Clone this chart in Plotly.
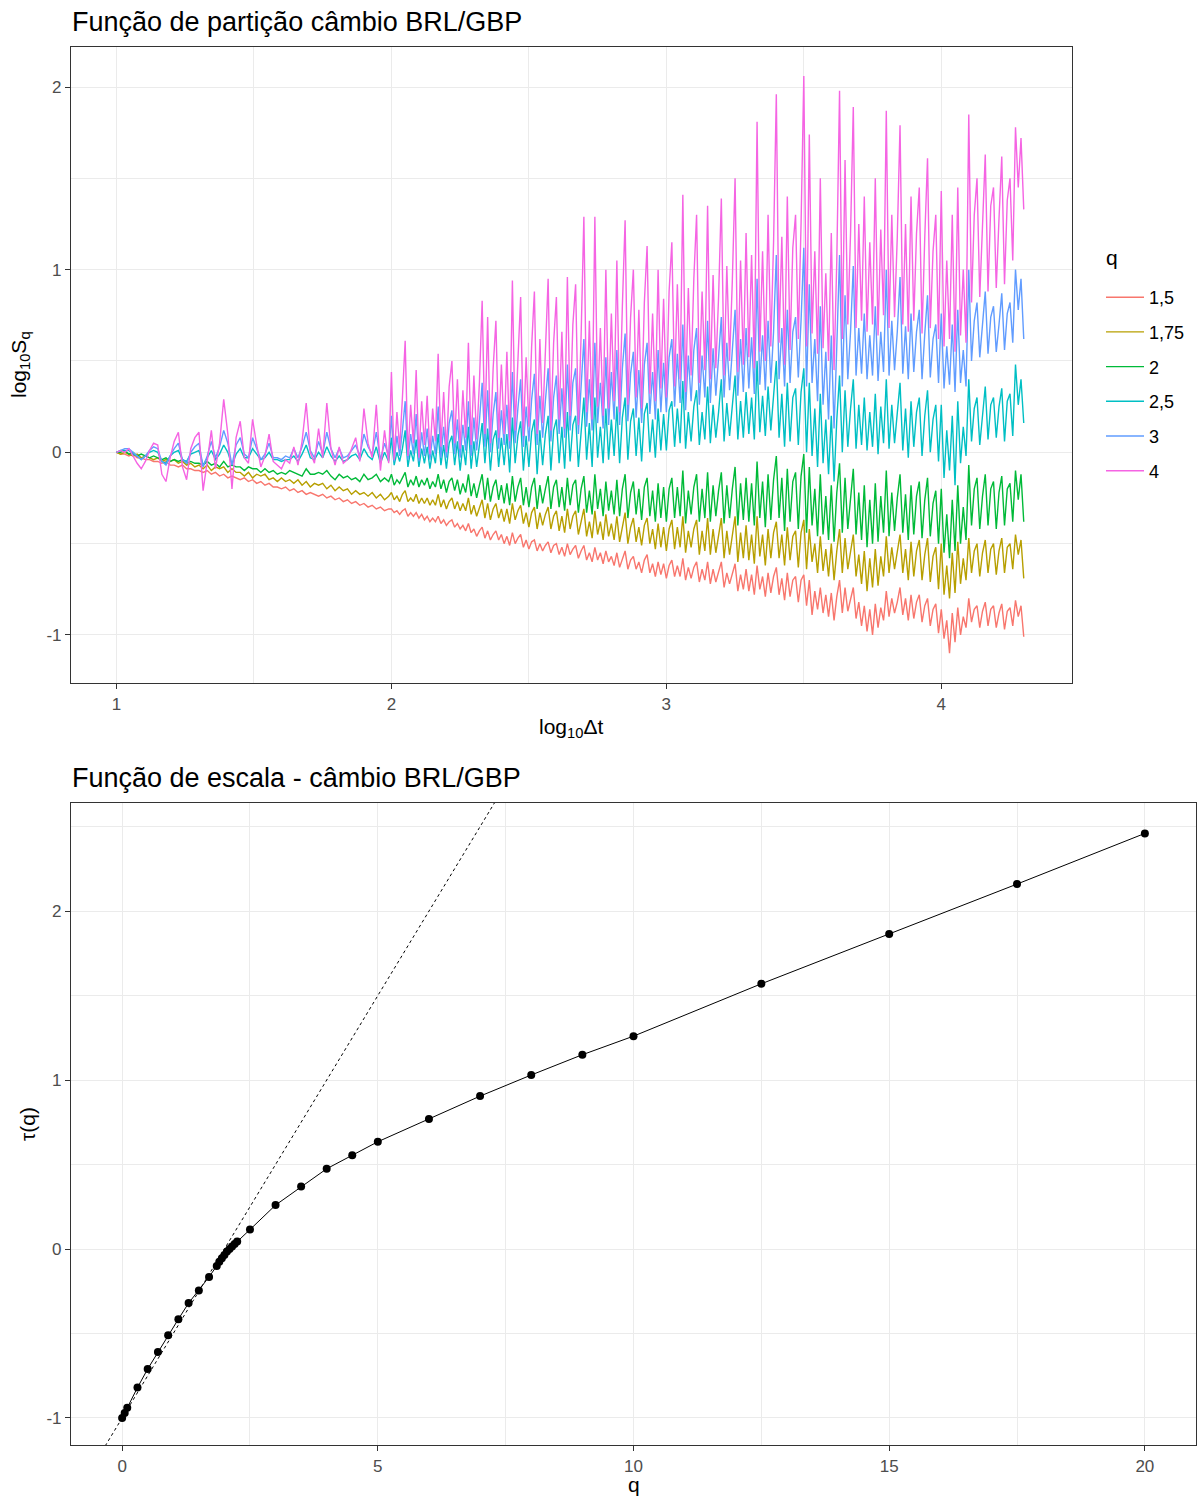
import numpy as np
import plotly.graph_objects as go

# ---------------------------------------------------------------
# Partition function log10 S_q versus log10 Δt (BRL/GBP exchange)
# grid: 1.00-1.99 every 0.015, then 2.00-4.30 every 0.01
# ---------------------------------------------------------------
log_dt = np.round(np.concatenate([np.linspace(1.0, 1.99, 67),
                                  np.linspace(2.0, 4.3, 231)]), 3)

s_q150 = [
    # 1.000 - 1.990
    0.00, -0.01, -0.01, -0.02, -0.01, -0.03, -0.03, -0.04, -0.04, -0.05,
    -0.05, -0.06, -0.05, -0.07, -0.07, -0.08, -0.07, -0.09, -0.09, -0.10,
    -0.10, -0.11, -0.10, -0.12, -0.11, -0.13, -0.12, -0.14, -0.13, -0.14,
    -0.15, -0.14, -0.16, -0.15, -0.17, -0.16, -0.18, -0.17, -0.19, -0.19,
    -0.20, -0.19, -0.21, -0.20, -0.22, -0.21, -0.23, -0.22, -0.23, -0.24,
    -0.23, -0.25, -0.24, -0.26, -0.25, -0.27, -0.26, -0.28, -0.27, -0.29,
    -0.28, -0.30, -0.29, -0.31, -0.30, -0.32, -0.31,
    # 2.00 - 4.30
    -0.31, -0.33, -0.32, -0.34, -0.32, -0.31, -0.35, -0.33, -0.35, -0.33,
    -0.36, -0.34, -0.37, -0.35, -0.38, -0.36, -0.38, -0.35, -0.39, -0.37,
    -0.40, -0.38, -0.37, -0.41, -0.39, -0.42, -0.40, -0.43, -0.39, -0.44,
    -0.42, -0.46, -0.43, -0.41, -0.47, -0.43, -0.48, -0.45, -0.43, -0.48,
    -0.45, -0.50, -0.46, -0.51, -0.44, -0.50, -0.47, -0.45, -0.52, -0.48,
    -0.53, -0.49, -0.48, -0.54, -0.50, -0.54, -0.51, -0.49, -0.55, -0.51,
    -0.50, -0.56, -0.52, -0.57, -0.50, -0.56, -0.53, -0.51, -0.58, -0.54,
    -0.51, -0.59, -0.55, -0.60, -0.52, -0.59, -0.55, -0.61, -0.54, -0.60,
    -0.57, -0.62, -0.55, -0.63, -0.58, -0.54, -0.64, -0.59, -0.57, -0.64,
    -0.60, -0.66, -0.59, -0.56, -0.66, -0.61, -0.68, -0.60, -0.67, -0.61,
    -0.69, -0.62, -0.59, -0.68, -0.62, -0.68, -0.58, -0.70, -0.63, -0.69,
    -0.63, -0.60, -0.71, -0.64, -0.70, -0.60, -0.72, -0.64, -0.71, -0.65,
    -0.60, -0.74, -0.66, -0.72, -0.67, -0.61, -0.76, -0.67, -0.75, -0.64,
    -0.76, -0.67, -0.78, -0.62, -0.75, -0.68, -0.79, -0.66, -0.77, -0.68,
    -0.63, -0.78, -0.69, -0.81, -0.66, -0.79, -0.70, -0.68, -0.82, -0.70,
    -0.67, -0.84, -0.70, -0.89, -0.76, -0.86, -0.74, -0.88, -0.78, -0.90,
    -0.77, -0.92, -0.79, -0.70, -0.88, -0.74, -0.87, -0.80, -0.74, -0.91,
    -0.82, -0.95, -0.84, -0.98, -0.86, -1.00, -0.83, -0.96, -0.85, -0.92,
    -0.76, -0.90, -0.80, -0.88, -0.82, -0.74, -0.89, -0.80, -0.92, -0.78,
    -0.91, -0.82, -0.78, -0.93, -0.84, -0.80, -0.95, -0.86, -0.83, -0.99,
    -0.86, -1.02, -0.92, -1.10, -0.88, -1.04, -0.85, -1.00, -0.90, -0.96,
    -0.80, -0.93, -0.86, -0.84, -0.96, -0.87, -0.82, -0.95, -0.86, -0.84,
    -0.96, -0.88, -0.83, -0.97, -0.87, -0.85, -0.95, -0.81, -0.90, -0.84,
    -1.01,
]

s_q175 = [
    0.00, -0.01, 0.00, -0.01, -0.02, -0.01, -0.03, -0.02, -0.03, -0.04,
    -0.03, -0.05, -0.04, -0.05, -0.04, -0.06, -0.05, -0.07, -0.06, -0.08,
    -0.07, -0.09, -0.07, -0.10, -0.08, -0.09, -0.08, -0.11, -0.09, -0.11,
    -0.11, -0.13, -0.11, -0.14, -0.12, -0.13, -0.12, -0.15, -0.14, -0.16,
    -0.14, -0.16, -0.15, -0.17, -0.15, -0.18, -0.16, -0.19, -0.17, -0.18,
    -0.17, -0.20, -0.18, -0.21, -0.19, -0.21, -0.20, -0.23, -0.21, -0.23,
    -0.22, -0.24, -0.22, -0.25, -0.23, -0.26, -0.24,
    -0.22, -0.26, -0.24, -0.27, -0.23, -0.21, -0.27, -0.25, -0.27, -0.23,
    -0.28, -0.25, -0.28, -0.25, -0.29, -0.26, -0.29, -0.23, -0.30, -0.26,
    -0.31, -0.27, -0.25, -0.31, -0.27, -0.32, -0.28, -0.32, -0.25, -0.34,
    -0.29, -0.35, -0.30, -0.26, -0.36, -0.28, -0.37, -0.31, -0.28, -0.36,
    -0.31, -0.38, -0.31, -0.39, -0.28, -0.37, -0.32, -0.29, -0.39, -0.33,
    -0.41, -0.33, -0.30, -0.42, -0.33, -0.40, -0.34, -0.30, -0.42, -0.35,
    -0.32, -0.43, -0.35, -0.44, -0.31, -0.42, -0.35, -0.32, -0.45, -0.37,
    -0.31, -0.46, -0.38, -0.47, -0.32, -0.45, -0.38, -0.48, -0.34, -0.46,
    -0.39, -0.48, -0.35, -0.49, -0.40, -0.33, -0.50, -0.41, -0.36, -0.49,
    -0.41, -0.51, -0.40, -0.36, -0.50, -0.42, -0.53, -0.39, -0.52, -0.41,
    -0.54, -0.42, -0.37, -0.53, -0.41, -0.52, -0.35, -0.55, -0.43, -0.52,
    -0.42, -0.37, -0.56, -0.43, -0.54, -0.36, -0.56, -0.42, -0.55, -0.44,
    -0.36, -0.58, -0.43, -0.56, -0.45, -0.35, -0.60, -0.44, -0.58, -0.40,
    -0.59, -0.45, -0.61, -0.35, -0.57, -0.45, -0.62, -0.42, -0.58, -0.44,
    -0.38, -0.58, -0.45, -0.62, -0.41, -0.59, -0.46, -0.43, -0.63, -0.44,
    -0.37, -0.64, -0.42, -0.60, -0.50, -0.66, -0.46, -0.65, -0.53, -0.68,
    -0.50, -0.70, -0.54, -0.42, -0.66, -0.47, -0.64, -0.55, -0.45, -0.68,
    -0.56, -0.72, -0.54, -0.76, -0.58, -0.74, -0.53, -0.73, -0.57, -0.68,
    -0.46, -0.66, -0.52, -0.64, -0.55, -0.45, -0.66, -0.53, -0.70, -0.49,
    -0.68, -0.54, -0.48, -0.70, -0.56, -0.47, -0.71, -0.57, -0.52, -0.75,
    -0.50, -0.78, -0.62, -0.80, -0.55, -0.77, -0.49, -0.72, -0.58, -0.70,
    -0.47, -0.66, -0.54, -0.50, -0.68, -0.55, -0.48, -0.66, -0.53, -0.50,
    -0.67, -0.54, -0.47, -0.66, -0.52, -0.50, -0.64, -0.45, -0.56, -0.48,
    -0.69,
]

s_q200 = [
    0.00, 0.00, 0.01, -0.01, 0.00, -0.02, -0.01, -0.02, -0.03, -0.02,
    -0.03, -0.04, -0.03, -0.05, -0.04, -0.05, -0.04, -0.06, -0.05, -0.06,
    -0.06, -0.07, -0.05, -0.07, -0.06, -0.08, -0.05, -0.08, -0.07, -0.08,
    -0.08, -0.10, -0.08, -0.09, -0.09, -0.11, -0.09, -0.11, -0.10, -0.12,
    -0.11, -0.12, -0.10, -0.11, -0.12, -0.13, -0.09, -0.12, -0.12, -0.11,
    -0.12, -0.10, -0.13, -0.15, -0.12, -0.14, -0.13, -0.15, -0.14, -0.16,
    -0.12, -0.15, -0.14, -0.12, -0.16, -0.14, -0.16,
    -0.12, -0.18, -0.15, -0.17, -0.14, -0.11, -0.19, -0.15, -0.18, -0.13,
    -0.19, -0.15, -0.18, -0.14, -0.20, -0.16, -0.19, -0.12, -0.20, -0.15,
    -0.22, -0.16, -0.14, -0.21, -0.15, -0.23, -0.17, -0.22, -0.12, -0.24,
    -0.17, -0.25, -0.18, -0.12, -0.26, -0.14, -0.27, -0.19, -0.15, -0.26,
    -0.18, -0.28, -0.17, -0.29, -0.13, -0.27, -0.19, -0.14, -0.29, -0.19,
    -0.30, -0.19, -0.14, -0.31, -0.18, -0.28, -0.20, -0.13, -0.31, -0.19,
    -0.15, -0.30, -0.19, -0.32, -0.14, -0.29, -0.18, -0.15, -0.33, -0.20,
    -0.13, -0.33, -0.21, -0.34, -0.12, -0.31, -0.20, -0.35, -0.16, -0.32,
    -0.21, -0.34, -0.15, -0.35, -0.20, -0.12, -0.36, -0.22, -0.16, -0.34,
    -0.20, -0.37, -0.19, -0.14, -0.35, -0.21, -0.38, -0.17, -0.36, -0.19,
    -0.38, -0.20, -0.14, -0.36, -0.19, -0.35, -0.10, -0.39, -0.21, -0.34,
    -0.19, -0.12, -0.38, -0.20, -0.36, -0.11, -0.38, -0.18, -0.35, -0.21,
    -0.11, -0.39, -0.18, -0.36, -0.20, -0.08, -0.40, -0.17, -0.37, -0.14,
    -0.38, -0.17, -0.40, -0.05, -0.36, -0.16, -0.41, -0.12, -0.37, -0.15,
    -0.02, -0.36, -0.14, -0.43, -0.09, -0.38, -0.16, -0.11, -0.42, -0.13,
    -0.01, -0.44, -0.08, -0.40, -0.20, -0.46, -0.12, -0.45, -0.24, -0.48,
    -0.18, -0.49, -0.22, -0.06, -0.44, -0.14, -0.42, -0.24, -0.09, -0.45,
    -0.22, -0.48, -0.18, -0.52, -0.26, -0.50, -0.17, -0.49, -0.24, -0.44,
    -0.10, -0.46, -0.22, -0.43, -0.25, -0.12, -0.44, -0.23, -0.48, -0.18,
    -0.45, -0.24, -0.16, -0.47, -0.26, -0.14, -0.46, -0.28, -0.21, -0.50,
    -0.20, -0.55, -0.34, -0.58, -0.26, -0.54, -0.18, -0.50, -0.30, -0.48,
    -0.07, -0.40, -0.20, -0.14, -0.42, -0.24, -0.12, -0.40, -0.20, -0.16,
    -0.42, -0.22, -0.13, -0.40, -0.20, -0.17, -0.38, -0.10, -0.26, -0.12,
    -0.38,
]

s_q250 = [
    0.00, 0.01, 0.01, 0.01, -0.01, -0.02, -0.04, -0.02, 0.00, 0.01,
    0.00, -0.05, -0.06, -0.02, 0.00, 0.01, -0.04, -0.05, -0.01, 0.00,
    0.01, -0.07, -0.03, 0.01, -0.04, -0.01, 0.04, 0.00, -0.07, -0.01,
    0.02, -0.03, -0.03, 0.02, -0.01, -0.04, -0.03, 0.00, -0.04, -0.04,
    -0.05, -0.04, -0.04, -0.02, -0.05, -0.01, 0.04, -0.03, -0.04, 0.00,
    -0.03, 0.03, -0.02, -0.05, -0.02, -0.05, -0.04, -0.02, -0.01, -0.04,
    0.02, -0.02, -0.04, 0.03, -0.06, 0.00, -0.05,
    0.08, -0.07, 0.00, -0.05, 0.02, 0.12, -0.08, 0.01, -0.05, 0.07,
    -0.08, 0.02, -0.06, 0.03, -0.09, 0.01, -0.06, 0.10, -0.07, 0.04,
    -0.09, 0.05, 0.09, -0.07, 0.06, -0.10, 0.04, -0.07, 0.14, -0.09,
    0.06, -0.08, 0.05, 0.16, -0.06, 0.13, -0.10, 0.07, 0.12, -0.08,
    0.08, -0.07, 0.10, -0.11, 0.19, -0.06, 0.09, 0.17, -0.10, 0.09,
    -0.08, 0.11, 0.18, -0.12, 0.12, -0.07, 0.10, 0.20, -0.10, 0.12,
    0.18, -0.06, 0.14, -0.09, 0.22, -0.05, 0.15, 0.20, -0.08, 0.13,
    0.30, -0.04, 0.16, -0.08, 0.30, -0.03, 0.14, -0.06, 0.24, -0.04,
    0.18, -0.02, 0.25, -0.06, 0.19, 0.30, -0.04, 0.17, 0.24, -0.02,
    0.19, -0.05, 0.21, 0.27, 0.00, 0.18, -0.03, 0.24, 0.01, 0.21,
    0.01, 0.23, 0.28, 0.03, 0.24, 0.05, 0.39, 0.02, 0.22, 0.06,
    0.25, 0.34, 0.04, 0.22, 0.07, 0.36, 0.05, 0.26, 0.08, 0.22,
    0.40, 0.06, 0.27, 0.09, 0.24, 0.42, 0.07, 0.28, 0.08, 0.33,
    0.10, 0.30, 0.07, 0.50, 0.11, 0.31, 0.09, 0.36, 0.12, 0.32,
    0.50, 0.08, 0.32, 0.03, 0.38, 0.06, 0.30, 0.35, 0.04, 0.33,
    0.46, 0.00, 0.38, -0.02, 0.24, -0.08, 0.32, -0.06, 0.18, -0.12,
    0.20, -0.16, 0.18, 0.42, 0.00, 0.34, 0.03, 0.24, 0.40, 0.02,
    0.26, 0.04, 0.30, 0.01, 0.22, 0.03, 0.32, -0.01, 0.25, 0.05,
    0.40, 0.02, 0.26, 0.05, 0.22, 0.38, 0.01, 0.24, -0.03, 0.28,
    0.03, 0.22, 0.30, -0.02, 0.20, 0.34, 0.00, 0.18, 0.26, -0.05,
    0.26, -0.14, 0.12, -0.10, 0.20, -0.18, 0.28, -0.06, 0.14, -0.02,
    0.40, 0.06, 0.24, 0.30, 0.04, 0.22, 0.36, 0.07, 0.26, 0.30,
    0.08, 0.25, 0.35, 0.06, 0.28, 0.32, 0.09, 0.48, 0.26, 0.40,
    0.16,
]

s_q300 = [
    0.00, 0.01, 0.02, 0.02, 0.00, -0.02, -0.04, -0.02, 0.01, 0.03,
    0.02, -0.05, -0.07, -0.02, 0.02, 0.05, -0.04, -0.06, 0.00, 0.03,
    0.05, -0.08, -0.02, 0.06, -0.03, 0.03, 0.12, 0.05, -0.07, 0.04,
    0.08, -0.01, -0.03, 0.08, 0.02, -0.04, -0.01, 0.05, -0.03, -0.03,
    -0.04, -0.02, -0.03, 0.02, -0.03, 0.03, 0.11, 0.01, -0.03, 0.06,
    -0.01, 0.11, 0.02, -0.03, 0.02, -0.03, -0.02, 0.01, 0.04, -0.02,
    0.10, 0.03, -0.01, 0.11, -0.04, 0.05, -0.02,
    0.20, -0.05, 0.09, -0.02, 0.12, 0.28, -0.04, 0.10, -0.01, 0.21,
    -0.05, 0.11, -0.02, 0.13, -0.04, 0.09, -0.01, 0.25, -0.03, 0.14,
    -0.03, 0.16, 0.23, -0.01, 0.18, -0.03, 0.15, 0.01, 0.28, -0.02,
    0.19, 0.01, 0.17, 0.38, 0.03, 0.34, 0.00, 0.21, 0.33, 0.02,
    0.23, 0.04, 0.26, 0.02, 0.44, 0.05, 0.24, 0.40, 0.03, 0.25,
    0.06, 0.29, 0.43, 0.04, 0.31, 0.08, 0.28, 0.46, 0.06, 0.30,
    0.42, 0.10, 0.35, 0.08, 0.48, 0.12, 0.38, 0.46, 0.10, 0.36,
    0.62, 0.14, 0.40, 0.12, 0.60, 0.16, 0.38, 0.13, 0.52, 0.15,
    0.44, 0.18, 0.56, 0.15, 0.46, 0.65, 0.17, 0.43, 0.55, 0.19,
    0.45, 0.16, 0.48, 0.60, 0.21, 0.44, 0.18, 0.56, 0.22, 0.49,
    0.22, 0.52, 0.62, 0.25, 0.54, 0.27, 0.70, 0.23, 0.53, 0.28,
    0.56, 0.68, 0.26, 0.53, 0.30, 0.72, 0.27, 0.57, 0.31, 0.52,
    0.74, 0.30, 0.60, 0.34, 0.57, 0.78, 0.31, 0.62, 0.33, 0.68,
    0.35, 0.63, 0.32, 0.95, 0.37, 0.64, 0.34, 0.72, 0.38, 0.66,
    1.08, 0.40, 0.68, 0.36, 0.78, 0.38, 0.66, 0.74, 0.41, 0.72,
    1.12, 0.36, 0.92, 0.38, 0.62, 0.28, 0.80, 0.26, 0.55, 0.18,
    0.64, 0.13, 0.58, 1.08, 0.36, 0.86, 0.40, 0.66, 1.02, 0.42,
    0.68, 0.43, 0.76, 0.40, 0.64, 0.42, 0.80, 0.39, 0.66, 0.44,
    1.00, 0.42, 0.72, 0.45, 0.66, 0.96, 0.43, 0.69, 0.40, 0.76,
    0.44, 0.66, 0.78, 0.40, 0.65, 0.86, 0.41, 0.62, 0.70, 0.38,
    0.76, 0.35, 0.58, 0.37, 0.70, 0.33, 0.78, 0.38, 0.56, 0.36,
    1.00, 0.50, 0.72, 0.82, 0.52, 0.68, 0.88, 0.54, 0.74, 0.80,
    0.55, 0.70, 0.87, 0.56, 0.76, 0.82, 0.60, 1.00, 0.78, 0.95,
    0.62,
]

s_q400 = [
    0.00, 0.01, 0.00, 0.02, -0.02, -0.06, -0.09, -0.05, 0.01, 0.05,
    0.04, -0.12, -0.16, -0.03, 0.06, 0.11, -0.08, -0.15, 0.02, 0.08,
    0.11, -0.21, -0.05, 0.12, -0.09, 0.05, 0.29, 0.10, -0.20, 0.08,
    0.17, -0.03, -0.06, 0.18, 0.04, -0.08, -0.02, 0.10, -0.05, -0.07,
    -0.09, -0.04, -0.06, 0.03, -0.07, 0.06, 0.27, 0.00, -0.06, 0.13,
    -0.03, 0.27, 0.02, -0.07, 0.03, -0.06, -0.04, 0.02, 0.08, -0.05,
    0.24, 0.05, -0.03, 0.26, -0.10, 0.12, -0.06,
    0.44, -0.04, 0.22, 0.02, 0.30, 0.61, -0.02, 0.26, 0.05, 0.45,
    -0.03, 0.28, 0.04, 0.31, -0.01, 0.24, 0.06, 0.54, 0.03, 0.33,
    0.00, 0.36, 0.50, 0.05, 0.40, 0.02, 0.34, 0.08, 0.60, 0.04,
    0.42, 0.07, 0.38, 0.83, 0.10, 0.74, 0.05, 0.46, 0.72, 0.08,
    0.48, 0.10, 0.55, 0.06, 0.94, 0.12, 0.50, 0.85, 0.09, 0.52,
    0.14, 0.58, 0.88, 0.10, 0.62, 0.16, 0.55, 0.95, 0.12, 0.60,
    0.85, 0.18, 0.66, 0.13, 0.96, 0.20, 0.70, 0.92, 0.15, 0.64,
    1.29, 0.22, 0.72, 0.18, 1.29, 0.25, 0.68, 0.20, 1.00, 0.24,
    0.76, 0.28, 1.05, 0.22, 0.80, 1.27, 0.26, 0.74, 1.00, 0.30,
    0.78, 0.24, 0.82, 1.13, 0.32, 0.76, 0.28, 1.00, 0.35, 0.84,
    0.30, 0.88, 1.15, 0.36, 0.92, 0.40, 1.41, 0.33, 0.90, 0.42,
    0.95, 1.30, 0.38, 0.88, 0.45, 1.35, 0.40, 0.97, 0.46, 0.85,
    1.39, 0.42, 1.02, 0.50, 0.94, 1.50, 0.44, 1.05, 0.48, 1.20,
    0.52, 1.08, 0.46, 1.81, 0.55, 1.10, 0.50, 1.30, 0.58, 1.15,
    1.96, 0.60, 1.18, 0.48, 1.40, 0.56, 1.12, 1.30, 0.62, 1.25,
    2.06, 0.58, 1.74, 0.65, 1.10, 0.54, 1.50, 0.57, 0.98, 0.50,
    1.20, 0.45, 1.05, 1.98, 0.62, 1.60, 0.70, 1.20, 1.89, 0.68,
    1.25, 0.72, 1.40, 0.66, 1.15, 0.70, 1.50, 0.64, 1.22, 0.75,
    1.87, 0.68, 1.30, 0.74, 1.18, 1.79, 0.70, 1.25, 0.66, 1.40,
    0.72, 1.20, 1.45, 0.65, 1.18, 1.61, 0.68, 1.10, 1.30, 0.62,
    1.43, 0.58, 1.05, 0.62, 1.30, 0.55, 1.45, 0.64, 1.00, 0.60,
    1.85, 0.82, 1.30, 1.50, 0.85, 1.22, 1.63, 0.88, 1.35, 1.45,
    0.90, 1.28, 1.62, 0.92, 1.38, 1.50, 1.05, 1.78, 1.45, 1.72,
    1.33,
]

q_labels = ["1,5", "1,75", "2", "2,5", "3", "4"]
q_series = [s_q150, s_q175, s_q200, s_q250, s_q300, s_q400]
q_colors = ["#F8766D", "#B79F00", "#00BA38", "#00BFC4", "#619CFF", "#F564E3"]
for s in q_series:
    assert len(s) == len(log_dt)

# ---------------------------------------------------------------
# Scaling function tau(q)
# ---------------------------------------------------------------
q_values = [0, 0.05, 0.1, 0.3, 0.5, 0.7, 0.9, 1.1, 1.3, 1.5, 1.7,
            1.85, 1.9, 1.95, 2.0, 2.05, 2.1, 2.15, 2.2, 2.25,
            2.5, 3, 3.5, 4, 4.5, 5, 6, 7, 8, 9, 10, 12.5, 15, 17.5, 20]
tau_values = [-1.00, -0.97, -0.94, -0.82, -0.71, -0.61, -0.51, -0.415, -0.32, -0.245, -0.165,
              -0.10, -0.075, -0.055, -0.035, -0.015, 0.00, 0.015, 0.03, 0.045,
              0.115, 0.26, 0.37, 0.475, 0.555, 0.635, 0.77, 0.905, 1.03, 1.15, 1.26,
              1.57, 1.865, 2.16, 2.46]

# reference line tau = H*q - 1 with H = 0.5
ref_slope = 0.5
ref_intercept = -1.0

# ---------------------------------------------------------------
W, H = 1197, 1500
FONT = "Liberation Sans, Arial, sans-serif"
GRID = "#EBEBEB"
BORDER = "#333333"
TICK_FONT = dict(family=FONT, size=17, color="#4D4D4D")


def fx(p):
    return p / W


def fy(p):
    return 1 - p / H


fig = go.Figure()

for lab, vals, col in zip(q_labels, q_series, q_colors):
    fig.add_trace(go.Scatter(
        x=log_dt, y=vals, mode="lines", name=lab,
        line=dict(color=col, width=1.4),
        legendgroup=lab, xaxis="x", yaxis="y",
    ))

x_lo, x_hi = -1.0, 21.0
fig.add_trace(go.Scatter(
    x=[x_lo, x_hi],
    y=[ref_intercept + ref_slope * x_lo, ref_intercept + ref_slope * x_hi],
    mode="lines", line=dict(color="black", width=1, dash="dot"),
    showlegend=False, xaxis="x2", yaxis="y2",
))
fig.add_trace(go.Scatter(
    x=q_values, y=tau_values, mode="lines+markers",
    line=dict(color="black", width=1),
    marker=dict(color="black", size=8),
    showlegend=False, xaxis="x2", yaxis="y2",
))


def axis(domain, rng, tickvals, ticktext, minor_dtick, anchor):
    return dict(
        domain=domain, range=rng, anchor=anchor,
        tickmode="array", tickvals=tickvals, ticktext=ticktext,
        tickfont=TICK_FONT, ticks="outside", ticklen=5, tickwidth=1,
        tickcolor=BORDER, showline=True, linecolor=BORDER, linewidth=1.2,
        mirror=True, showgrid=True, gridcolor=GRID, gridwidth=1.1,
        zeroline=False,
        minor=dict(dtick=minor_dtick, tick0=0, showgrid=True,
                   gridcolor=GRID, gridwidth=0.6, ticks=""),
    )


fig.update_layout(
    width=W, height=H, autosize=False,
    margin=dict(l=0, r=0, t=0, b=0),
    paper_bgcolor="white", plot_bgcolor="white",
    font=dict(family=FONT, color="black"),
    xaxis=axis([fx(71), fx(1072)], [0.8345, 4.4755], [1, 2, 3, 4],
               ["1", "2", "3", "4"], 0.5, "y"),
    yaxis=axis([fy(683), fy(47)], [-1.263, 2.219], [-1, 0, 1, 2],
               ["-1", "0", "1", "2"], 0.5, "x"),
    xaxis2=axis([fx(71), fx(1196)], [-1.0, 21.0], [0, 5, 10, 15, 20],
                ["0", "5", "10", "15", "20"], 2.5, "y2"),
    yaxis2=axis([fy(1445), fy(803)], [-1.16, 2.64], [-1, 0, 1, 2],
                ["-1", "0", "1", "2"], 0.5, "x2"),
    legend=dict(
        x=fx(1101), y=fy(279), xanchor="left", yanchor="top",
        font=dict(family=FONT, size=18, color="black"),
        itemwidth=38, tracegroupgap=8.3,
        bgcolor="rgba(0,0,0,0)", borderwidth=0,
    ),
    showlegend=True,
)

annots = [
    dict(text="Função de partição câmbio BRL/GBP", x=fx(70), y=fy(22),
         xanchor="left", yanchor="middle", font=dict(size=27)),
    dict(text="Função de escala - câmbio BRL/GBP", x=fx(70), y=fy(778),
         xanchor="left", yanchor="middle", font=dict(size=27)),
    dict(text="q", x=fx(1104), y=fy(258),
         xanchor="left", yanchor="middle", font=dict(size=21)),
    dict(text="log<sub>10</sub>Δt", x=fx(571), y=fy(728),
         xanchor="center", yanchor="middle", font=dict(size=21)),
    dict(text="log<sub>10</sub>S<sub>q</sub>", x=fx(20), y=fy(365),
         xanchor="center", yanchor="middle", textangle=-90, font=dict(size=21)),
    dict(text="q", x=fx(634), y=fy(1484),
         xanchor="center", yanchor="middle", font=dict(size=21)),
    dict(text="τ(q)", x=fx(27), y=fy(1124),
         xanchor="center", yanchor="middle", textangle=-90, font=dict(size=21)),
]
for a in annots:
    a.update(xref="paper", yref="paper", showarrow=False)
    a["font"] = dict(family=FONT, color="black", **a["font"])
fig.update_layout(annotations=annots)

fig.write_html("out.html")
